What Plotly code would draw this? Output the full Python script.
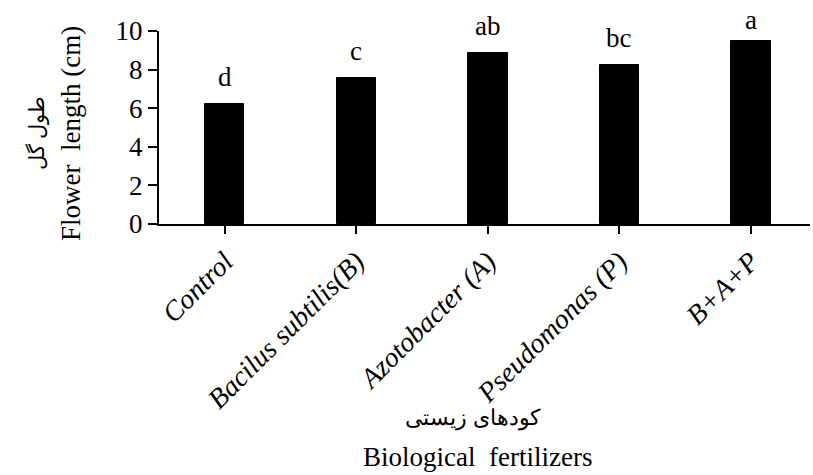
import plotly.graph_objects as go

categories = ["Control", "Bacilus subtilis(B)", "Azotobacter (A)", "Pseudomonas (P)", "B+A+P"]
values = [6.2, 7.55, 8.85, 8.25, 9.5]
letters = ["d", "c", "ab", "bc", "a"]
y_ticks = [0, 2, 4, 6, 8, 10]

W, H = 813, 475
L, T = 159, 31
R = W - 810
B = H - 224
pw, ph = W - L - R, H - T - B

def px2paper(x, y):
    return (x - L) / pw, (H - B - y) / ph

FONT = "Liberation Serif"

fig = go.Figure()
fig.add_trace(go.Bar(
    x=list(range(len(categories))), y=values, width=0.30,
    marker=dict(color="black", line=dict(color="black", width=1)),
    showlegend=False,
))

for i, (v, t) in enumerate(zip(values, letters)):
    shift = 4 if i == len(values) - 1 else 10
    fig.add_annotation(x=i, y=v, text=t, showarrow=False, xanchor="center", yanchor="bottom",
                       yshift=shift, font=dict(family=FONT, size=27, color="black"))

def label(xp, yp, text, size, angle=0):
    ax, ay = px2paper(xp, yp)
    fig.add_annotation(x=ax, y=ay, xref="paper", yref="paper", text=text, textangle=angle,
                       xanchor="center", yanchor="middle", showarrow=False,
                       font=dict(family=FONT, size=size, color="black"))

label(71, 134, "Flower  length (cm)", 27, -90)
label(37, 133, "طول گل", 21, -90)
label(473, 418, "کودهای زیستی", 22)
label(477, 457, "Biological  fertilizers", 27)

fig.update_layout(
    width=W, height=H,
    margin=dict(l=L, r=R, t=T, b=B, autoexpand=False),
    plot_bgcolor="white", paper_bgcolor="white",
    bargap=0,
)
fig.update_xaxes(
    range=[-0.5, 4.45], tickmode="array", tickvals=list(range(len(categories))),
    ticktext=categories, tickangle=-45, automargin=False,
    tickfont=dict(family=FONT, size=28, color="black", style="italic"),
    ticks="outside", ticklen=8, tickwidth=2, tickcolor="black",
    showline=True, linecolor="black", linewidth=2, showgrid=False, zeroline=False,
)
fig.update_yaxes(
    range=[0, 10], tickmode="array", tickvals=y_ticks, ticktext=[str(v) for v in y_ticks],
    tickfont=dict(family=FONT, size=27, color="black"), automargin=False,
    ticks="outside", ticklen=9, tickwidth=2, tickcolor="black",
    showline=True, linecolor="black", linewidth=2, showgrid=False, zeroline=False,
)

fig.write_html("out.html", config={"displayModeBar": False},
               post_script="document.body.style.margin='0';document.body.style.overflow='hidden';")
